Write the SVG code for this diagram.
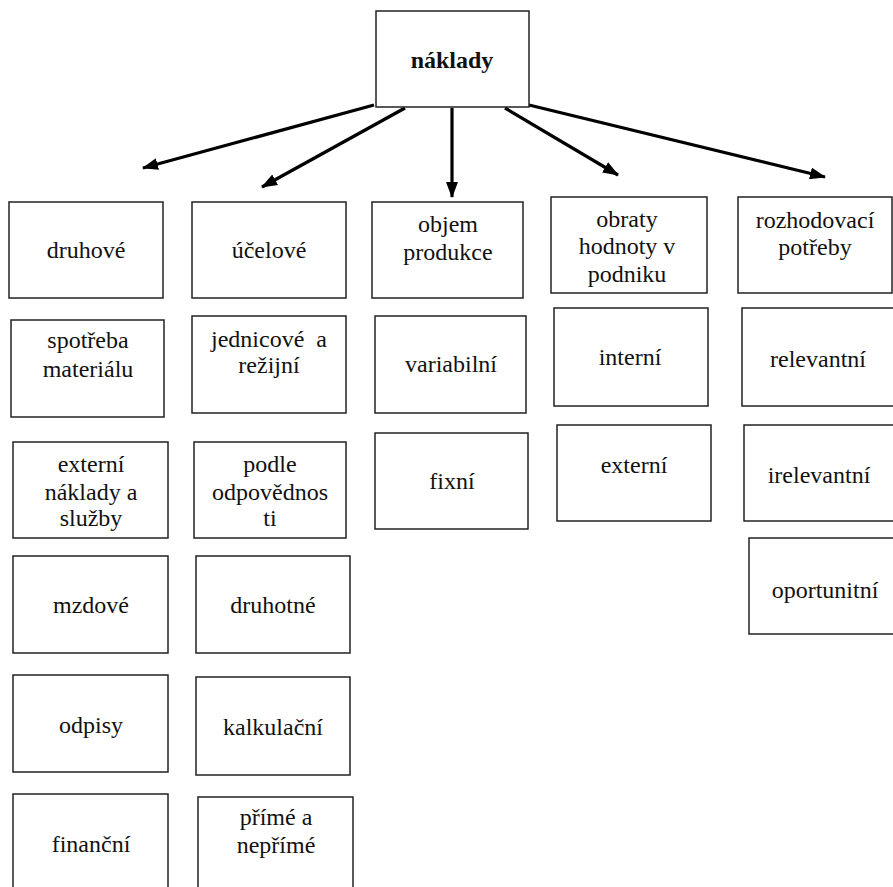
<svg xmlns="http://www.w3.org/2000/svg" width="893" height="887" viewBox="0 0 893 887">
<style>
.box{fill:#fff;stroke:#222;stroke-width:1.5}
text{font-family:"Liberation Serif","Times New Roman",serif;font-size:24px;fill:#111;text-anchor:middle}
.b{font-weight:bold}
.c{stroke:#000;stroke-width:3.2;fill:none;marker-end:url(#ah)}
</style>
<defs>
<marker id="ah" markerUnits="userSpaceOnUse" markerWidth="16" markerHeight="12" refX="15" refY="6" orient="auto">
<path d="M0,0 L16,6 L0,12 z" fill="#000"/>
</marker>
</defs>
<rect width="893" height="887" fill="#fff"/>
<g id="connectors">
<line class="c" x1="374" y1="105" x2="143" y2="168"/>
<line class="c" x1="405" y1="108" x2="262" y2="187"/>
<line class="c" x1="452" y1="108" x2="452" y2="197"/>
<line class="c" x1="505" y1="108" x2="618" y2="175"/>
<line class="c" x1="529" y1="105" x2="825" y2="177"/>
</g>
<g id="n-naklady"><rect class="box" x="376" y="11" width="153" height="96"/><text class="b" x="452" y="68">náklady</text></g>

<g id="n-druhove"><rect class="box" x="9" y="202" width="154" height="96"/><text x="86" y="258">druhové</text></g>
<g id="n-spotreba"><rect class="box" x="11" y="320" width="153" height="97"/><text x="88" y="348">spotřeba</text><text x="88" y="377">materiálu</text></g>
<g id="n-externi1"><rect class="box" x="13" y="442" width="155" height="96"/><text x="91" y="472">externí</text><text x="91" y="500">náklady a</text><text x="91" y="526">služby</text></g>
<g id="n-mzdove"><rect class="box" x="13" y="556" width="155" height="97"/><text x="91" y="613">mzdové</text></g>
<g id="n-odpisy"><rect class="box" x="13" y="675" width="155" height="97"/><text x="91" y="733">odpisy</text></g>
<g id="n-financni"><rect class="box" x="13" y="794" width="155" height="100"/><text x="91" y="852">finanční</text></g>

<g id="n-ucelove"><rect class="box" x="192" y="202" width="154" height="96"/><text x="269" y="258">účelové</text></g>
<g id="n-jednicove"><rect class="box" x="192" y="316" width="154" height="97"/><text x="269" y="347" style="white-space:pre" xml:space="preserve">jednicové  a</text><text x="269" y="373">režijní</text></g>
<g id="n-podle"><rect class="box" x="194" y="442" width="152" height="96"/><text x="270" y="472">podle</text><text x="270" y="500">odpovědnos</text><text x="270" y="526">ti</text></g>
<g id="n-druhotne"><rect class="box" x="196" y="556" width="154" height="97"/><text x="273" y="613">druhotné</text></g>
<g id="n-kalkulacni"><rect class="box" x="196" y="677" width="154" height="98"/><text x="273" y="735">kalkulační</text></g>
<g id="n-prime"><rect class="box" x="198" y="797" width="155" height="100"/><text x="276" y="825">přímé a</text><text x="276" y="853">nepřímé</text></g>

<g id="n-objem"><rect class="box" x="372" y="202" width="151" height="96"/><text x="448" y="232">objem</text><text x="448" y="260">produkce</text></g>
<g id="n-variabilni"><rect class="box" x="375" y="316" width="151" height="97"/><text x="451" y="372">variabilní</text></g>
<g id="n-fixni"><rect class="box" x="375" y="433" width="153" height="96"/><text x="452" y="489">fixní</text></g>

<g id="n-obraty"><rect class="box" x="551" y="197" width="156" height="96"/><text x="627" y="227">obraty</text><text x="627" y="254">hodnoty v</text><text x="627" y="282">podniku</text></g>
<g id="n-interni"><rect class="box" x="554" y="308" width="154" height="98"/><text x="630" y="365">interní</text></g>
<g id="n-externi2"><rect class="box" x="557" y="425" width="154" height="96"/><text x="634" y="473">externí</text></g>

<g id="n-rozhodovaci"><rect class="box" x="738" y="197" width="154" height="96"/><text x="815" y="228">rozhodovací</text><text x="815" y="255">potřeby</text></g>
<g id="n-relevantni"><rect class="box" x="742" y="308" width="156" height="98"/><text x="818" y="367">relevantní</text></g>
<g id="n-irelevantni"><rect class="box" x="744" y="425" width="156" height="96"/><text x="819" y="483">irelevantní</text></g>
<g id="n-oportunitni"><rect class="box" x="749" y="538" width="156" height="96"/><text x="825" y="598">oportunitní</text></g>
</svg>
